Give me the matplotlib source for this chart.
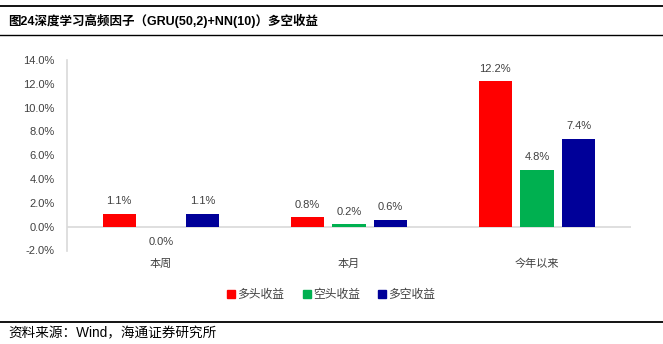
import matplotlib
matplotlib.use("Agg")
import matplotlib.pyplot as plt
import numpy as np
from matplotlib.lines import Line2D

plt.rcParams["font.family"] = ["Liberation Sans", "Noto Sans CJK SC"]

categories = ["本周", "本月", "今年以来"]
series_names = ["多头收益", "空头收益", "多空收益"]
long_ret = [1.1, 0.8, 12.2]
short_ret = [0.0, 0.2, 4.8]
long_short_ret = [1.1, 0.6, 7.4]
series_colors = ["#ff0000", "#00b050", "#000099"]

title = "图24深度学习高频因子（GRU(50,2)+NN(10)）多空收益"
source = "资料来源：Wind，海通证券研究所"

W, H = 663, 344
fig = plt.figure(figsize=(W / 100, H / 100), dpi=100)
fig.patch.set_facecolor("white")

# page rules and header/footer text
for y in (6, 35, 322):
    fig.add_artist(Line2D([0, 1], [1 - y / H, 1 - y / H], color="black",
                          linewidth=1.3 if y != 35 else 1.0, transform=fig.transFigure))
fig.text(8 / W, 1 - 20.5 / H, title, ha="left", va="center", fontsize=9.0,
         weight="bold", color="black")
fig.text(8 / W, 1 - 333 / H, source, ha="left", va="center", fontsize=9.8, color="black")

ax = fig.add_axes([67 / W, 1 - 250.5 / H, (631 - 67) / W, (250.5 - 60) / H])
x = np.arange(len(categories))
width = 0.176
step = 0.222
text_color = "#404040"

for i, (vals, color) in enumerate(zip([long_ret, short_ret, long_short_ret], series_colors)):
    pos = x + (i - 1) * step
    ax.bar(pos, vals, width=width, color=color, linewidth=0, zorder=3)
    for px, v in zip(pos, vals):
        if v > 0:
            ax.annotate(f"{v:.1f}%", (px, v), xytext=(0, 5.5), textcoords="offset points",
                        ha="center", va="bottom", fontsize=8, color=text_color)
        else:
            ax.annotate(f"{v:.1f}%", (px, v), xytext=(0, -7.5), textcoords="offset points",
                        ha="center", va="top", fontsize=8, color=text_color)

ax.set_xlim(-0.5, len(categories) - 0.5)
ax.set_ylim(-2, 14)
ax.set_yticks(np.arange(-2, 15, 2))
ax.set_yticklabels([f"{t:.1f}%" for t in np.arange(-2, 15, 2)])
ax.set_xticks(x)
ax.set_xticklabels(categories)
ax.tick_params(axis="y", length=0, pad=9, labelsize=8, labelcolor=text_color)
ax.tick_params(axis="x", length=0, pad=6, labelsize=8, labelcolor=text_color)
for side in ("top", "right", "bottom"):
    ax.spines[side].set_visible(False)
ax.spines["left"].set_color("#d9d9d9")
ax.spines["left"].set_linewidth(1.2)
ax.axhline(0, color="#d9d9d9", linewidth=1.2, zorder=2)

handles = [Line2D([], [], marker="s", linestyle="none", markersize=5.5,
                  markerfacecolor=c, markeredgecolor=c) for c in series_colors]
fig.legend(handles, series_names, loc="center", bbox_to_anchor=(0.5, 1 - 295 / H),
           ncol=3, frameon=False, fontsize=8.5, handlelength=0.6, handletextpad=0.2,
           columnspacing=1.6, labelcolor=text_color)

fig.savefig("out.png", dpi=100, facecolor="white")
